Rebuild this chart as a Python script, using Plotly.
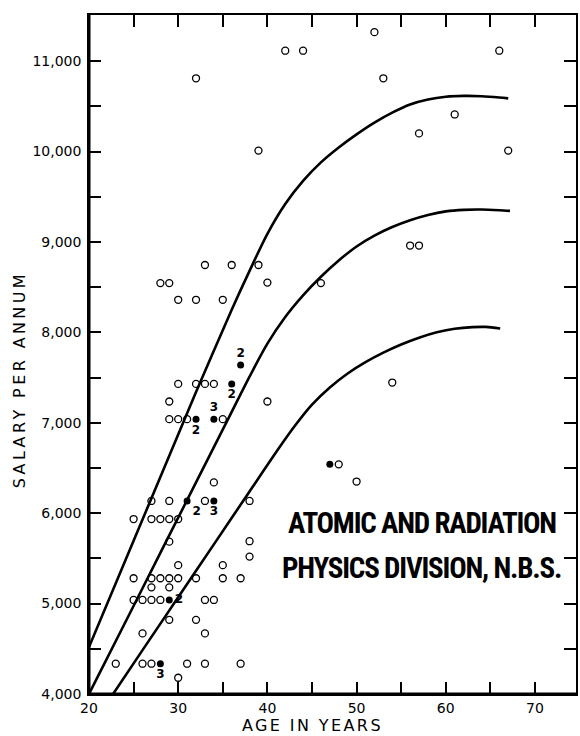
import plotly.graph_objects as go

# ---- data ----
open_age = [42, 44, 52, 66, 32, 53, 61, 57, 39, 67,
            56, 57,
            33, 36, 39,
            28, 29, 40, 46,
            30, 32, 35,
            54,
            30, 32, 33, 34,
            29, 40,
            29, 30, 31, 35,
            48, 50,
            34,
            27, 29, 33, 38,
            25, 27, 28, 29, 30,
            29, 38,
            38,
            30, 35,
            25, 27, 28, 29, 30, 32, 35, 37,
            27, 29,
            25, 26, 27, 28, 33, 34,
            29, 32,
            26, 33,
            23, 26, 27, 31, 33, 37,
            30]
open_salary = [11115, 11115, 11320, 11115, 10810, 10810, 10410, 10200, 10010, 10010,
               8960, 8960,
               8745, 8745, 8745,
               8545, 8545, 8550, 8545,
               8360, 8360, 8360,
               7445,
               7430, 7430, 7430, 7430,
               7235, 7235,
               7040, 7040, 7040, 7040,
               6540, 6350,
               6340,
               6135, 6135, 6135, 6135,
               5935, 5935, 5935, 5935, 5935,
               5685, 5690,
               5520,
               5425, 5425,
               5280, 5280, 5280, 5280, 5280, 5280, 5280, 5280,
               5180, 5180,
               5040, 5040, 5040, 5040, 5040, 5040,
               4820, 4820,
               4670, 4670,
               4335, 4335, 4335, 4335, 4335, 4335,
               4180]

filled_age = [37, 36, 32, 34, 31, 34, 29, 28, 47]
filled_salary = [7640, 7430, 7040, 7040, 6135, 6135, 5040, 4335, 6540]
filled_count = ["2", "2", "2", "3", "2", "3", "2", "3", ""]

upper_age = [20, 24, 28, 32, 36, 38, 40, 42, 44, 46, 48, 50, 52, 54, 56, 58, 60, 62, 64, 66, 67]
upper_salary = [4520, 5460, 6400, 7340, 8250, 8680, 9090, 9420, 9675, 9880, 10045, 10190,
                10320, 10430, 10520, 10575, 10605, 10615, 10612, 10598, 10588]

middle_age = [20, 24, 28, 32, 36, 38, 40, 42, 44, 46, 48, 50, 52, 54, 56, 58, 60, 62, 64, 66, 67.2]
middle_salary = [4000, 4780, 5560, 6340, 7120, 7510, 7875, 8170, 8410, 8615, 8795, 8950,
                 9070, 9165, 9240, 9298, 9338, 9355, 9358, 9350, 9343]

lower_age = [22.7, 26, 30, 34, 38, 41.3, 43, 45, 47, 49, 51, 53, 55, 57, 59, 61, 63, 64.5, 66.1]
lower_salary = [4000, 4485, 5070, 5655, 6240, 6720, 6955, 7200, 7390, 7545, 7670, 7775,
                7865, 7940, 8000, 8040, 8058, 8060, 8042]

x_ticks = [20, 30, 40, 50, 60, 70]
y_ticks = [4000, 5000, 6000, 7000, 8000, 9000, 10000, 11000]

title_lines = ["ATOMIC AND RADIATION", "PHYSICS DIVISION, N.B.S."]

# ---- figure ----
fig = go.Figure()
for ages, sal in [(upper_age, upper_salary), (middle_age, middle_salary), (lower_age, lower_salary)]:
    fig.add_trace(go.Scatter(x=ages, y=sal, mode="lines",
                             line=dict(color="black", width=2.6, shape="spline", smoothing=0.8),
                             hoverinfo="skip", showlegend=False))

fig.add_trace(go.Scatter(x=open_age, y=open_salary, mode="markers",
                         marker=dict(symbol="circle-open", size=7, color="black",
                                     line=dict(width=1.3, color="black")),
                         showlegend=False))

label_positions = ["top center", "bottom center", "bottom center", "top center",
                   "bottom right", "bottom center", "middle right", "bottom center", "top center"]
fig.add_trace(go.Scatter(x=filled_age, y=filled_salary, mode="markers+text",
                         text=filled_count, textposition=label_positions,
                         textfont=dict(family="DejaVu Sans", size=12, color="black", weight="bold"),
                         marker=dict(symbol="circle", size=7, color="black"),
                         showlegend=False))

axis_common = dict(showgrid=False, zeroline=False, showline=True, linecolor="black",
                   linewidth=1.5, mirror="ticks", ticks="inside", ticklen=12,
                   tickwidth=1.5, tickcolor="black",
                   tickfont=dict(family="DejaVu Sans", size=14, color="black"))

fig.update_xaxes(range=[20, 74.6], tickvals=x_ticks,
                 minor=dict(dtick=5, tick0=20, ticks="inside", ticklen=12, tickwidth=1.5,
                            tickcolor="black"),
                 **axis_common)
fig.update_yaxes(range=[4000, 11510], tickvals=y_ticks, tickformat=",d",
                 ticklabelstandoff=3,
                 minor=dict(dtick=500, tick0=4000, ticks="inside", ticklen=12, tickwidth=1.5,
                            tickcolor="black"),
                 **axis_common)

# heavier left and bottom axis lines
fig.add_shape(type="line", xref="paper", yref="paper", x0=0, x1=0, y0=0, y1=1,
              line=dict(color="black", width=3))
fig.add_shape(type="line", xref="paper", yref="paper", x0=0, x1=1, y0=0, y1=0,
              line=dict(color="black", width=3))

fig.add_annotation(text='<span style="letter-spacing:3.4px">SALARY PER ANNUM</span>',
                   xref="paper", yref="paper",
                   x=-0.141, y=0.4625, xanchor="center", yanchor="middle",
                   textangle=-90, showarrow=False,
                   font=dict(family="DejaVu Sans", size=16, color="black"))
fig.add_annotation(text='<span style="letter-spacing:2.4px">AGE IN YEARS</span>',
                   xref="paper", yref="paper",
                   x=0.458, y=-0.0457, xanchor="center", yanchor="middle", showarrow=False,
                   font=dict(family="DejaVu Sans", size=16, color="black"))

for i, line in enumerate(title_lines):
    fig.add_annotation(text='<span style="font-stretch:condensed;letter-spacing:-1.2px">'
                            + line + '</span>',
                       xref="paper", yref="paper",
                       x=0.683, y=[0.2518, 0.1856][i], xanchor="center", yanchor="middle",
                       showarrow=False,
                       font=dict(family="Roboto", size=29, color="black", weight="bold"))

fig.update_layout(width=580, height=736, margin=dict(l=89, r=2, t=15, b=42),
                  plot_bgcolor="white", paper_bgcolor="white")

fig.write_html("out.html")
